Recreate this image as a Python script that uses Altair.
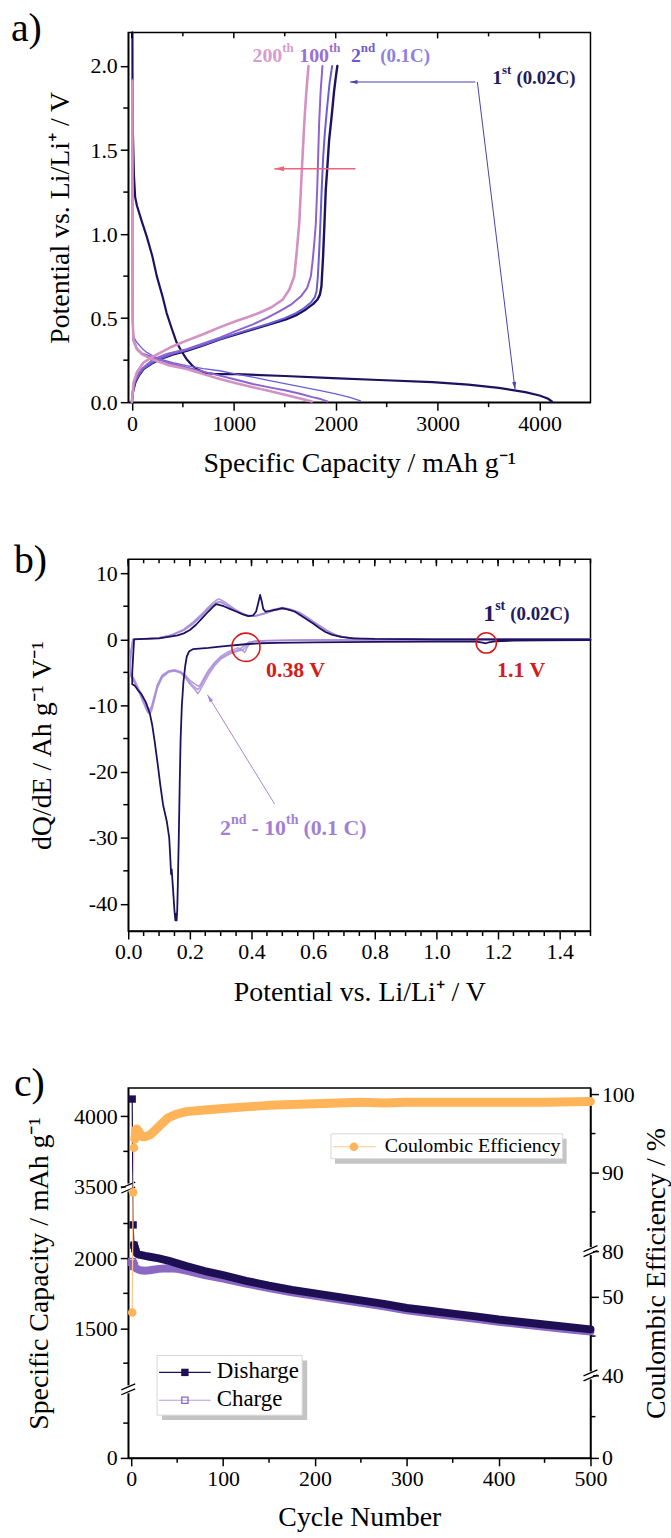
import math
import altair as alt
import pandas as pd

FONT = "Liberation Serif"
W = 465
HA, HB, HC = 372, 374, 372

# ---------------- colours ----------------
NAVY = "#1d1160"
BLUE2 = "#6a5ed6"
PURP100 = "#8c64cc"
PINK200 = "#d391c4"
LAV = "#a88bd8"
RED = "#d41c1c"
ARROWRED = "#f0657e"
DIS_C = "#1e0f55"
CHG_C = "#8a68c4"
CE_C = "#ffb45a"

# ---------------- (a) capacity (mAh/g), potential (V) ----------------
a_1st_dis = [(5, 2.2), (6, 1.9), (10, 1.6), (20, 1.35), (32, 1.22), (49, 1.17), (100, 1.07), (146, 0.985),
             (200, 0.87), (244, 0.75), (300, 0.63), (341, 0.53), (390, 0.44), (439, 0.355), (490, 0.3),
             (537, 0.256), (590, 0.22), (634, 0.197), (690, 0.182), (732, 0.173), (800, 0.169), (862, 0.167),
             (1024, 0.167), (1500, 0.156), (1970, 0.143), (2423, 0.132), (2950, 0.119), (3300, 0.105),
             (3600, 0.085), (3860, 0.06), (4000, 0.04), (4080, 0.022), (4122, 0.004)]
a_1st_chg = [(0, 0.0), (10, 0.06), (33, 0.118), (70, 0.16), (114, 0.197), (200, 0.232), (276, 0.256), (400, 0.283),
             (537, 0.305), (700, 0.338), (862, 0.374), (1024, 0.404), (1187, 0.433), (1350, 0.463), (1512, 0.493),
             (1620, 0.52), (1707, 0.552), (1780, 0.585), (1821, 0.611), (1845, 0.64), (1860, 0.69), (1876, 0.867),
             (1890, 1.07), (1902, 1.26), (1918, 1.4), (1935, 1.557), (1960, 1.7), (1984, 1.85), (2000, 1.93),
             (2016, 2.0)]
a_2nd_dis = [(6, 1.92), (6, 1.2), (7, 0.6), (9, 0.42), (20, 0.385), (49, 0.355), (100, 0.32), (146, 0.296),
             (210, 0.275), (276, 0.256), (400, 0.235), (537, 0.217), (700, 0.2), (862, 0.187), (1024, 0.167),
             (1200, 0.147), (1350, 0.128), (1500, 0.11), (1675, 0.089), (1850, 0.069), (2000, 0.049),
             (2130, 0.03), (2244, 0.008)]
a_2nd_chg = [(0, 0.0), (10, 0.07), (33, 0.125), (70, 0.165), (114, 0.2), (200, 0.235), (276, 0.26), (400, 0.288),
             (537, 0.31), (700, 0.342), (862, 0.376), (1024, 0.408), (1187, 0.438), (1350, 0.468), (1500, 0.5),
             (1610, 0.53), (1690, 0.56), (1760, 0.595), (1795, 0.625), (1812, 0.66), (1825, 0.75), (1838, 0.9),
             (1850, 1.07), (1862, 1.26), (1876, 1.45), (1893, 1.6), (1915, 1.75), (1940, 1.9), (1965, 2.0)]
a_100_dis = [(5, 1.92), (5, 1.0), (7, 0.5), (15, 0.374), (49, 0.32), (100, 0.29), (211, 0.266), (350, 0.235),
             (537, 0.207), (700, 0.182), (862, 0.158), (1024, 0.133), (1187, 0.108), (1350, 0.088),
             (1512, 0.069), (1650, 0.05), (1772, 0.03), (1860, 0.017), (1919, 0.004)]
a_100_chg = [(0, 0.0), (8, 0.06), (20, 0.11), (49, 0.158), (100, 0.2), (211, 0.256), (350, 0.288), (537, 0.315),
             (700, 0.35), (862, 0.384), (1024, 0.424), (1187, 0.463), (1320, 0.5), (1447, 0.54), (1560, 0.58),
             (1659, 0.63), (1720, 0.68), (1756, 0.749), (1775, 0.85), (1790, 0.95), (1805, 1.064), (1820, 1.3),
             (1837, 1.655), (1852, 1.85), (1870, 2.0)]
a_200_dis = [(5, 1.91), (5, 1.0), (7, 0.5), (15, 0.365), (49, 0.315), (100, 0.285), (200, 0.255), (350, 0.222),
             (537, 0.197), (700, 0.167), (862, 0.138), (1024, 0.113), (1187, 0.089), (1350, 0.066),
             (1512, 0.043), (1650, 0.022), (1766, 0.004)]
a_200_chg = [(0, 0.0), (16, 0.118), (50, 0.18), (114, 0.236), (200, 0.27), (374, 0.325), (530, 0.365), (699, 0.404),
             (860, 0.445), (1024, 0.483), (1140, 0.507), (1252, 0.532), (1370, 0.565), (1480, 0.61), (1545, 0.67),
             (1593, 0.749), (1615, 0.88), (1642, 1.064), (1665, 1.35), (1691, 1.655), (1712, 1.85), (1733, 2.0)]
a_x_ticks = [0, 1000, 2000, 3000, 4000]
a_x_minor = [500, 1500, 2500, 3500]
a_y_ticks = [0.0, 0.5, 1.0, 1.5, 2.0]
a_y_minor = [0.25, 0.75, 1.25, 1.75]

# ---------------- (b) potential (V), dQ/dE (Ah/g/V) ----------------
b_1st = [(1.5, -0.12), (1.35, -0.15), (1.25, -0.2), (1.19, -0.3), (1.17, -0.45), (1.16, -0.6), (1.15, -0.5),
         (1.13, -0.35), (1.0, -0.35), (0.8, -0.4), (0.6, -0.45), (0.48, -0.55), (0.43, -0.6), (0.38, -0.75),
         (0.33, -0.95), (0.29, -1.15), (0.26, -1.3), (0.23, -1.4), (0.21, -1.5), (0.198, -1.8), (0.19, -2.6),
         (0.185, -4.0), (0.179, -6.5), (0.174, -10.0), (0.17, -15.0), (0.167, -22.0), (0.164, -30.0),
         (0.161, -37.0), (0.159, -41.0), (0.157, -42.5), (0.155, -41.5), (0.153, -42.5), (0.15, -41.0),
         (0.145, -37.5), (0.141, -34.8), (0.139, -35.5), (0.137, -33.5), (0.133, -30.0), (0.125, -27.5),
         (0.113, -25.0), (0.104, -22.0), (0.096, -19.0), (0.086, -15.5), (0.078, -13.0), (0.07, -11.2),
         (0.057, -9.5), (0.043, -8.3), (0.03, -7.6), (0.021, -7.0), (0.013, -6.8), (0.013, -5.0), (0.019, 0.0),
         (0.05, 0.05), (0.1, 0.15), (0.13, 0.35), (0.16, 0.6), (0.18, 0.9), (0.2, 1.4), (0.22, 2.2), (0.24, 3.2),
         (0.26, 4.2), (0.275, 4.9), (0.285, 5.3), (0.295, 5.2), (0.31, 5.0), (0.33, 4.6), (0.35, 4.2),
         (0.37, 3.8), (0.39, 3.5), (0.405, 3.6), (0.415, 4.2), (0.422, 5.5), (0.428, 6.7), (0.433, 5.8),
         (0.438, 4.6), (0.445, 4.2), (0.46, 4.3), (0.48, 4.5), (0.5, 4.7), (0.52, 4.5), (0.54, 4.2), (0.56, 3.6),
         (0.58, 3.0), (0.6, 2.4), (0.62, 1.7), (0.64, 1.1), (0.66, 0.7), (0.69, 0.35), (0.73, 0.15), (0.8, 0.05),
         (1.0, 0.0), (1.5, 0.0)]
b_2nd = [(1.5, -0.05), (1.0, -0.07), (0.6, -0.1), (0.45, -0.2), (0.41, -0.3), (0.39, -0.5), (0.38, -1.2),
         (0.37, -1.7), (0.36, -1.5), (0.35, -1.7), (0.33, -2.0), (0.3, -2.8), (0.28, -3.7), (0.26, -5.0),
         (0.245, -6.2), (0.232, -7.3), (0.225, -7.6), (0.215, -7.2), (0.2, -6.5), (0.185, -5.6), (0.17, -5.0),
         (0.15, -4.7), (0.13, -4.9), (0.11, -5.6), (0.095, -7.0), (0.085, -8.8), (0.075, -10.5), (0.07, -11.0),
         (0.063, -10.8), (0.05, -9.5), (0.035, -7.8), (0.02, -6.3), (0.01, -5.5), (0.005, -5.0), (0.008, -2.0),
         (0.015, 0.0), (0.05, 0.05), (0.1, 0.2), (0.14, 0.6), (0.18, 1.4), (0.21, 2.4), (0.24, 3.7),
         (0.265, 4.9), (0.285, 5.6), (0.3, 5.7), (0.32, 5.2), (0.35, 4.3), (0.38, 3.6), (0.41, 3.5),
         (0.44, 3.9), (0.47, 4.4), (0.5, 4.6), (0.52, 4.5), (0.55, 4.0), (0.58, 3.2), (0.61, 2.3), (0.64, 1.4),
         (0.67, 0.7), (0.7, 0.3), (0.75, 0.1), (0.85, 0.02), (1.5, 0.0)]
b_5th = [(1.5, -0.05), (1.0, -0.08), (0.6, -0.12), (0.45, -0.22), (0.41, -0.35), (0.395, -0.6), (0.385, -1.3),
         (0.378, -2.0), (0.37, -1.6), (0.355, -1.8), (0.33, -2.2), (0.3, -3.0), (0.28, -4.0), (0.26, -5.4),
         (0.245, -6.7), (0.232, -7.8), (0.226, -8.2), (0.216, -7.6), (0.2, -6.8), (0.185, -5.8), (0.17, -5.1),
         (0.15, -4.8), (0.13, -5.0), (0.11, -5.8), (0.095, -7.3), (0.085, -9.2), (0.076, -10.8), (0.07, -11.3),
         (0.062, -11.0), (0.05, -9.7), (0.035, -8.0), (0.02, -6.5), (0.01, -5.7), (0.005, -5.2), (0.008, -2.2),
         (0.015, 0.0), (0.05, 0.05), (0.1, 0.22), (0.14, 0.65), (0.18, 1.5), (0.21, 2.6), (0.24, 3.9),
         (0.265, 5.1), (0.285, 5.9), (0.295, 6.1), (0.315, 5.6), (0.345, 4.6), (0.375, 3.8), (0.405, 3.5),
         (0.44, 3.9), (0.47, 4.5), (0.5, 4.8), (0.525, 4.6), (0.555, 4.1), (0.585, 3.2), (0.615, 2.2),
         (0.645, 1.3), (0.675, 0.6), (0.71, 0.25), (0.76, 0.08), (0.85, 0.02), (1.5, 0.0)]
b_10th = [(1.5, -0.04), (1.0, -0.06), (0.6, -0.09), (0.45, -0.18), (0.41, -0.28), (0.39, -0.45),
          (0.375, -1.0), (0.365, -1.4), (0.355, -1.3), (0.34, -1.6), (0.32, -2.0), (0.3, -2.6), (0.28, -3.5),
          (0.26, -4.7), (0.245, -5.9), (0.235, -6.8), (0.228, -7.1), (0.218, -6.8), (0.2, -6.2), (0.185, -5.4),
          (0.17, -4.9), (0.15, -4.6), (0.13, -4.8), (0.11, -5.4), (0.095, -6.8), (0.085, -8.5), (0.076, -10.1),
          (0.07, -10.6), (0.062, -10.4), (0.05, -9.2), (0.035, -7.6), (0.02, -6.1), (0.01, -5.4), (0.006, -4.9),
          (0.009, -2.0), (0.016, 0.0), (0.05, 0.05), (0.1, 0.2), (0.14, 0.6), (0.18, 1.35), (0.21, 2.3),
          (0.24, 3.6), (0.265, 4.8), (0.285, 5.5), (0.3, 5.6), (0.325, 5.0), (0.355, 4.2), (0.385, 3.6),
          (0.415, 3.5), (0.445, 3.9), (0.475, 4.4), (0.505, 4.6), (0.53, 4.4), (0.56, 3.9), (0.59, 3.0),
          (0.62, 2.1), (0.65, 1.2), (0.68, 0.55), (0.72, 0.2), (0.77, 0.06), (0.85, 0.02), (1.5, 0.0)]
b_x_ticks = [0.0, 0.2, 0.4, 0.6, 0.8, 1.0, 1.2, 1.4]
b_x_minor = [round(0.05 * k, 2) for k in range(31) if k % 4 != 0]
b_x_top = [round(0.05 * k, 2) for k in range(31)]
b_y_ticks = [10, 0, -10, -20, -30, -40]
b_y_minor = [5, -5, -15, -25, -35]
b_marked_v = [0.382, 1.162]
b_marked_q = [-1.2, -0.55]

# ---------------- (c) cycle number, capacity (mAh/g), coulombic efficiency (%) ----------------
c_discharge = [(1, 4122), (2, 2240), (3, 2095), (4, 2070), (5, 2050), (6, 2035), (8, 2028), (10, 2025),
               (15, 2018), (20, 2012), (30, 2000), (40, 1985), (50, 1965), (60, 1945), (80, 1910), (100, 1880),
               (125, 1840), (150, 1805), (175, 1775), (200, 1750), (225, 1725), (250, 1700), (275, 1675),
               (300, 1645), (325, 1625), (350, 1605), (375, 1585), (400, 1563), (425, 1545), (450, 1527),
               (475, 1510), (500, 1492)]
c_charge = [(1, 1975), (2, 1960), (3, 1945), (5, 1930), (8, 1920), (10, 1915), (15, 1912), (20, 1915),
            (30, 1925), (40, 1930), (50, 1925), (60, 1912), (80, 1880), (100, 1855), (125, 1820), (150, 1787),
            (175, 1757), (200, 1732), (225, 1707), (250, 1682), (275, 1657), (300, 1628), (325, 1607),
            (350, 1587), (375, 1567), (400, 1547), (425, 1528), (450, 1510), (475, 1493), (500, 1476)]
c_ce = [(1, 48.0), (2, 87.5), (3, 93.2), (4, 94.3), (5, 95.5), (6, 95.6), (8, 95.3), (10, 94.9), (12, 94.6),
        (15, 94.6), (20, 94.8), (25, 95.3), (30, 95.9), (40, 97.0), (50, 97.5), (60, 97.8), (80, 98.0),
        (100, 98.2), (125, 98.4), (150, 98.6), (175, 98.7), (200, 98.8), (225, 98.9), (250, 99.0), (275, 98.9),
        (300, 99.0), (350, 99.0), (400, 99.0), (450, 99.0), (500, 99.1)]
c_x_ticks = [0, 100, 200, 300, 400, 500]
c_x_minor = [50, 150, 250, 350, 450]
c_cap_ticks = [0, 1500, 2000, 3500, 4000]
c_cap_minor = [500, 1250, 1750, 2250, 3750]
c_ce_ticks = [0, 40, 50, 80, 90, 100]
c_ce_minor = [20, 45, 85, 95]

# ---------------- axes / scales ----------------
AX = dict(grid=False, domainColor="black", domainWidth=1.5, tickColor="black", tickWidth=1.5, tickSize=8,
          labelColor="black", labelFont=FONT, labelFontSize=22, labelPadding=3, titleColor="black",
          titleFont=FONT, titleFontSize=28, titleFontWeight="normal", labelFlush=False, labelOverlap=False)


def bottom_axis(values, title, fmt, ty=70):
    return alt.Axis(orient="bottom", values=values, format=fmt, title=title, titleX=W / 2, titleY=ty,
                    titleAlign="center", titleBaseline="alphabetic", titleAngle=0, **AX)


def side_axis(orient, values, title, tx, H, fmt=None, expr=None):
    kw = dict(orient=orient, values=values, title=title, titleX=tx, titleY=H / 2, titleAngle=270,
              titleAlign="center", titleBaseline="middle", **AX)
    if fmt:
        kw["format"] = fmt
    if expr:
        kw["labelExpr"] = expr
    return alt.Axis(**kw)


def sc(domain, rng=None):
    if rng is None:
        return alt.Scale(domain=domain, nice=False, zero=False)
    return alt.Scale(domain=domain, range=rng, nice=False, zero=False)


xa = sc([-36, 4500])
ya = sc([0, 2.2])
xb = sc([0, 1.5])
yb = sc([-44.1, 12.1])
xc = sc([-3.3, 500])
yc = sc([0, 1000, 1070, 2515, 3500, 4200], [HC, 302, 302, 99, 99, 0])
ye = sc([0, 40, 55.8, 80, 100.8], [HC, 289, 164, 164, 0])

AXMAP = {
    id(xa): bottom_axis(a_x_ticks, "Specific Capacity / mAh g\u207b\u00b9", "d"),
    id(ya): side_axis("left", a_y_ticks, "Potential vs. Li/Li\u207a / V", -68, HA, fmt=".1f"),
    id(xb): bottom_axis(b_x_ticks, "Potential vs. Li/Li\u207a / V", ".1f"),
    id(yb): side_axis("left", b_y_ticks, "dQ/dE / Ah g\u207b\u00b9 V\u207b\u00b9", -86, HB,
                      expr="datum.value + ''"),
    id(xc): bottom_axis(c_x_ticks, "Cycle Number", "d", 68),
    id(yc): side_axis("left", c_cap_ticks, "Specific Capacity / mAh g\u207b\u00b9", -89, HC, fmt="d"),
    id(ye): side_axis("right", c_ce_ticks, "Coulombic Efficiency / %", 66, HC, fmt="d"),
}

# ---------------- helpers ----------------
DUMMY = pd.DataFrame({"k": [0]})
ARROW = "M0,0L-0.42,1.6L0.42,1.6Z"
TB = {".": .25, " ": .25, "(": .333, ")": .333, "C": .722, "V": .722, "s": .389, "t": .333,
      "n": .556, "d": .556, "h": .556, "-": .333}


def tw(s, fs):
    return sum(TB.get(ch, .5) for ch in s) * fs


def X(f, xs):
    return alt.X(f"{f}:Q", scale=xs, axis=AXMAP[id(xs)])


def Y(f, ys):
    return alt.Y(f"{f}:Q", scale=ys, axis=AXMAP[id(ys)])


def enc(xs, ys, xf="x", yf="y"):
    return dict(x=X(xf, xs), y=Y(yf, ys))


def curve(pairs, xs, ys, color, width, opacity=1.0):
    df = pd.DataFrame(pairs, columns=["x", "y"])
    df["i"] = range(len(df))
    return alt.Chart(df).mark_line(color=color, strokeWidth=width, opacity=opacity,
                                   strokeJoin="round", strokeCap="round").encode(order="i:Q", **enc(xs, ys))


def pts(pairs, xs, ys, color, shape, size, filled=True, sw=1.2):
    df = pd.DataFrame(pairs, columns=["x", "y"])
    return alt.Chart(df).mark_point(shape=shape, size=size, filled=filled, color=color, opacity=1,
                                    strokeWidth=sw).encode(**enc(xs, ys))


def txt(x, y, s, xs, ys, color, size, bold=True, dx=0, dy=0, align="left"):
    df = pd.DataFrame({"x": [x], "y": [y], "t": [s]})
    return alt.Chart(df).mark_text(font=FONT, fontSize=size, fontWeight="bold" if bold else "normal",
                                   color=color, align=align, baseline="middle", dx=dx, dy=dy
                                   ).encode(text="t:N", **enc(xs, ys))


def suplabel(x, y, segs, xs, ys):
    # segs: (text, fontsize, dy, colour, gap before)
    out, off = [], 0.0
    for s, fs, dy, col, gap in segs:
        off += gap
        out.append(txt(x, y, s, xs, ys, col, fs, dx=off, dy=dy))
        off += tw(s, fs)
    return out


def arrow(p1, p2, xs, ys, pix, color, width, head):
    df = pd.DataFrame({"x": [p1[0]], "y": [p1[1]], "x2": [p2[0]], "y2": [p2[1]]})
    X1, Y1 = pix(*p1)
    X2, Y2 = pix(*p2)
    ang = math.degrees(math.atan2(X2 - X1, -(Y2 - Y1))) % 360
    rule = alt.Chart(df).mark_rule(color=color, strokeWidth=width).encode(
        x2="x2:Q", y2="y2:Q", **enc(xs, ys))
    hd = alt.Chart(df).mark_point(shape=ARROW, angle=ang, size=head, filled=True, color=color,
                                  opacity=1, strokeWidth=0).encode(**enc(xs, ys, "x2", "y2"))
    return [rule, hd]


def xrules(vals, xs, y0, y1):
    df = pd.DataFrame({"x": vals})
    return alt.Chart(df).mark_rule(color="black", strokeWidth=1.5).encode(
        x=X("x", xs), y=alt.value(y0), y2=alt.value(y1))


def yrules(vals, ys, x0, x1):
    df = pd.DataFrame({"y": vals})
    return alt.Chart(df).mark_rule(color="black", strokeWidth=1.5).encode(
        y=Y("y", ys), x=alt.value(x0), x2=alt.value(x1))


def prule(x1, y1, x2, y2, color, w):
    return alt.Chart(DUMMY).mark_rule(color=color, strokeWidth=w).encode(
        x=alt.value(x1), y=alt.value(y1), x2=alt.value(x2), y2=alt.value(y2))


def prect(x1, y1, x2, y2, fill, stroke=None):
    kw = dict(fill=fill, opacity=1)
    if stroke:
        kw.update(stroke=stroke, strokeWidth=1)
    return alt.Chart(DUMMY).mark_rect(**kw).encode(
        x=alt.value(x1), y=alt.value(y1), x2=alt.value(x2), y2=alt.value(y2))


def ppoint(x, y, color, shape, size, filled=True):
    return alt.Chart(DUMMY).mark_point(shape=shape, size=size, filled=filled, color=color, opacity=1,
                                       strokeWidth=1.3).encode(x=alt.value(x), y=alt.value(y))


def ptext(x, y, s, size, color="black", bold=False):
    return alt.Chart(pd.DataFrame({"t": [s]})).mark_text(
        font=FONT, fontSize=size, fontWeight="bold" if bold else "normal", color=color,
        align="left", baseline="middle").encode(x=alt.value(x), y=alt.value(y), text="t:N")


def breakmark(x0, yb_):
    return [prule(x0, yb_ - 4, x0, yb_ + 4, "white", 5),
            prule(x0 - 7, yb_ + 0.5, x0 + 7, yb_ - 5.5, "black", 1.3),
            prule(x0 - 7, yb_ + 5.5, x0 + 7, yb_ - 0.5, "black", 1.3)]


# ================= panel a =================
def pix_a(x, y):
    return (x + 36) / 4536 * W, HA - y / 2.2 * HA


la = [curve(a_1st_dis, xa, ya, NAVY, 2.2), curve(a_1st_chg, xa, ya, NAVY, 2.4),
      curve(a_2nd_dis, xa, ya, BLUE2, 1.3), curve(a_2nd_chg, xa, ya, BLUE2, 2.0),
      curve(a_100_dis, xa, ya, PURP100, 2.0), curve(a_100_chg, xa, ya, PURP100, 2.0),
      curve(a_200_dis, xa, ya, PINK200, 2.6), curve(a_200_chg, xa, ya, PINK200, 2.6)]
la += arrow((3370, 1.905), (2140, 1.905), xa, ya, pix_a, "#4b40b0", 1.1, 90)
la += arrow((3390, 1.905), (3760, 0.075), xa, ya, pix_a, "#4b40b0", 1.0, 90)
la += arrow((2195, 1.389), (1398, 1.389), xa, ya, pix_a, ARROWRED, 1.5, 150)
la += suplabel(1183, 2.06, [("200", 20, 0, "#d99ccc", 0), ("th", 13, -8, "#d99ccc", 0)], xa, ya)
la += suplabel(1642, 2.06, [("100", 20, 0, "#9a70d4", 0), ("th", 13, -8, "#9a70d4", 0)], xa, ya)
la += suplabel(2149, 2.06, [("2", 20, 0, "#6b5bd6", 0), ("nd", 13, -8, "#6b5bd6", 0),
                            ("(0.1C)", 19, 0, "#8d80e0", 5)], xa, ya)
la += suplabel(3535, 1.93, [("1", 20, 0, "#241a62", 0), ("st", 13, -8, "#241a62", 0),
                            ("(0.02C)", 19, 0, "#241a62", 5)], xa, ya)
la += [xrules(a_x_minor, xa, HA, HA + 5), xrules(a_x_ticks, xa, 0, 6), xrules(a_x_minor, xa, 0, 4),
       yrules(a_y_minor, ya, -5, 0), ptext(-118, -3, "a)", 40)]
panel_a = alt.layer(*la).properties(width=W, height=HA)

# ================= panel b =================
def pix_b(x, y):
    return x / 1.5 * W, HB - (y + 44.1) / 56.2 * HB


lb = [curve(b_10th, xb, yb, LAV, 1.5, 0.85), curve(b_5th, xb, yb, LAV, 1.5, 0.85),
      curve(b_2nd, xb, yb, LAV, 1.5, 0.85), curve(b_1st, xb, yb, NAVY, 1.8)]
bm = pd.DataFrame({"x": b_marked_v, "y": b_marked_q, "s": [804, 415]})
lb += [alt.Chart(bm).mark_point(shape="circle", filled=False, color=RED, strokeWidth=1.6, opacity=1).encode(
    size=alt.Size("s:Q", scale=None, legend=None), **enc(xb, yb))]
lb += arrow((0.475, -24.9), (0.257, -8.4), xb, yb, pix_b, "#a585d8", 1.0, 90)
lb += suplabel(1.152, 3.75, [("1", 24, 0, "#241a62", 0), ("st", 14, -9, "#241a62", 0),
                             ("(0.02C)", 19, 0, "#241a62", 5)], xb, yb)
lb += [txt(0.447, -4.6, "0.38 V", xb, yb, RED, 22), txt(1.197, -4.6, "1.1 V", xb, yb, RED, 22)]
lb += suplabel(0.298, -28.6, [("2", 22, 0, "#a27fd6", 0), ("nd", 14, -9, "#a27fd6", 0),
                              ("- 10", 22, 0, "#a27fd6", 5), ("th", 14, -9, "#a27fd6", 0),
                              ("(0.1 C)", 22, 0, "#a27fd6", 5)], xb, yb)
lb += [xrules(b_x_minor, xb, HB, HB + 5), xrules(b_x_top, xb, 0, 4), xrules(b_x_ticks, xb, 0, 7),
       yrules(b_y_minor, yb, -5, 0), ptext(-115, 2, "b)", 40)]
panel_b = alt.layer(*lb).properties(width=W, height=HB)

# ================= panel c =================
lc = [curve(c_charge, xc, yc, CHG_C, 1.2), curve(c_charge[1:], xc, yc, CHG_C, 8),
      pts(c_charge[:3], xc, yc, CHG_C, "square", 45, filled=False, sw=1.6),
      curve(c_discharge, xc, yc, DIS_C, 1.2), curve(c_discharge[2:], xc, yc, DIS_C, 8),
      pts(c_discharge[:5], xc, yc, DIS_C, "square", 55)]
lc += [xrules(c_x_minor, xc, HC, HC + 5), yrules(c_cap_minor, yc, -5, 0)]
lc += breakmark(0, 100) + breakmark(0, 303)
lc += [prect(34, 274, 180, 334, "#c4c4c4"), prect(29, 269, 175, 329, "white", "#d8d8d8"),
       prule(31, 286, 83, 286, DIS_C, 1.2), ppoint(57, 286, DIS_C, "square", 55),
       prule(31, 314, 83, 314, "#b79ae6", 1.2), ppoint(57, 314, CHG_C, "square", 40, filled=False),
       ptext(89, 285, "Disharge", 23), ptext(89, 313, "Charge", 23),
       ptext(-115, -4, "c)", 40)]
left_c = alt.layer(*lc)

rc = [curve(c_ce, xc, ye, "#ffc884", 1.2), curve(c_ce[3:], xc, ye, CE_C, 9),
      pts(c_ce[:5], xc, ye, CE_C, "circle", 75)]
rc += [yrules(c_ce_minor, ye, W, W + 5)]
rc += breakmark(W, 164) + breakmark(W, 289)
rc += [prect(208, 51, 441, 76, "#c4c4c4"), prect(204, 46, 437, 71, "white", "#d8d8d8"),
       prule(206, 59, 249, 59, "#ffc884", 1.2), ppoint(227, 59, CE_C, "circle", 75),
       ptext(258, 58, "Coulombic Efficiency", 20)]
right_c = alt.layer(*rc)

panel_c = alt.layer(left_c, right_c).resolve_scale(y="independent").properties(width=W, height=HC)

chart = alt.vconcat(panel_a, panel_b, panel_c, spacing=158, bounds="flush").properties(
    padding={"left": 10, "top": 4, "right": 0, "bottom": 2}
).configure_view(stroke="black", strokeWidth=1.5)

chart.save("out.html", embed_options={"renderer": "svg", "actions": False})
